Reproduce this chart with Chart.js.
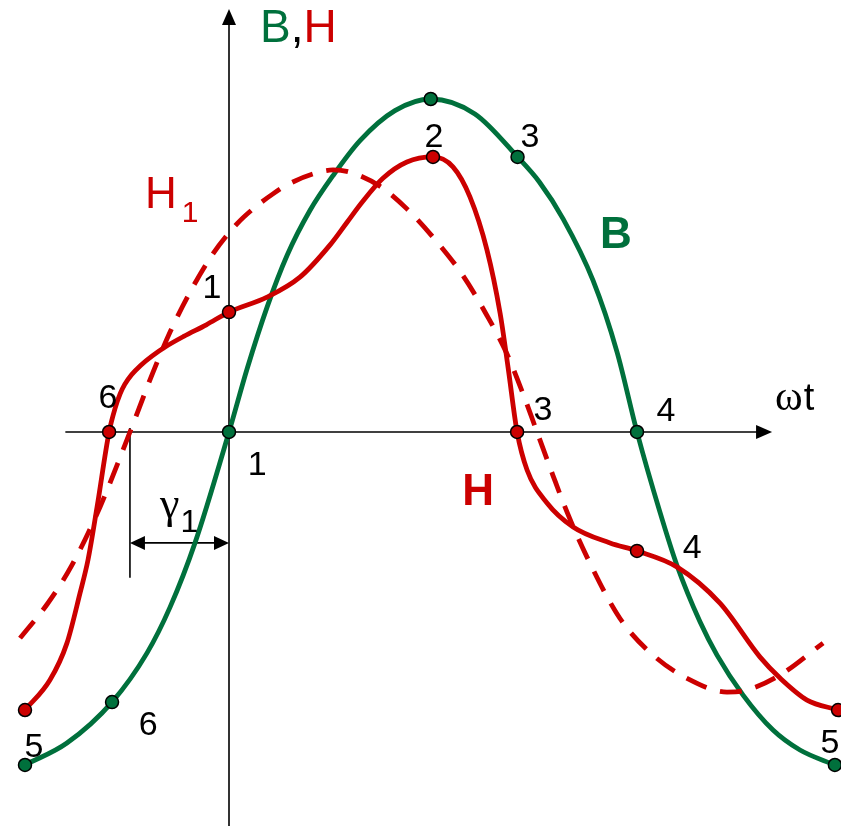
<!DOCTYPE html>
<html>
<head>
<meta charset="utf-8">
<script src="https://cdn.jsdelivr.net/npm/chart.js@4.4.1/dist/chart.umd.min.js"></script>
<style>
  html, body { margin: 0; padding: 0; background: #ffffff; }
  canvas { display: block; }
</style>
</head>
<body>
<canvas id="c" width="841" height="827"></canvas>
<script>
// Phase ωt in degrees, B and H in units of the B amplitude.

// Flux density B
const bPhase = [-90, -71.5, -51.6, -36.2, -26, -15, 0, 8, 16.8, 25.6, 35.7, 45.9, 57.8, 73.2, 89,
                108.5, 127.3, 137, 147.4, 160.6, 171.2, 180, 190.1, 197.6, 207.8, 215.3, 226.8, 240, 251.9, 267.3];
const bValue = [-1.0, -0.934, -0.811, -0.664, -0.526, -0.333, 0, 0.19, 0.375, 0.53, 0.665, 0.77, 0.875, 0.965, 1.0,
                0.955, 0.826, 0.75, 0.64, 0.455, 0.24, 0, -0.24, -0.40, -0.57, -0.67, -0.79, -0.895, -0.955, -1.0];
// indices of the numbered states 5, 6, 1, 2, 3, 4, 5 on B
const bMarked = [0, 2, 6, 14, 16, 21, 29];

// Field strength H (distorted)
const hPhase = [-90, -79, -71.5, -65.7, -62.2, -58.2, -52.9, -50.3, -48, -46, -43, -39, -34, -28, -20, -10, 0,
                16.8, 31.3, 44.6, 52.1, 58.7, 67.9, 78.5, 90, 98.8, 106.3, 113.8, 119.6, 123.1, 127.1, 131.5,
                140.3, 151.8, 168.1, 180, 197.6, 216.6, 234.3, 243.1, 255, 268.7];
const hValue = [-0.835, -0.745, -0.634, -0.483, -0.384, -0.225, 0, 0.07, 0.115, 0.143, 0.172, 0.20, 0.228, 0.256,
                0.287, 0.322, 0.36, 0.405, 0.465, 0.562, 0.63, 0.69, 0.762, 0.811, 0.826, 0.796, 0.706, 0.547,
                0.357, 0.195, 0, -0.114, -0.213, -0.285, -0.333, -0.357, -0.405, -0.514, -0.676, -0.739, -0.805, -0.835];
// indices of the numbered states 5, 6, 1, 2, 3, 4, 5 on H
const hMarked = [0, 6, 16, 24, 30, 35, 41];

// First harmonic H1 of H
const h1Phase = [-92.2, -80, -69.3, -56.9, -43.7, -33.5, -26, -17.2, -7.1, 3.5, 10.6, 19.4, 25.6, 37.1, 45.9,
                 53.4, 66.6, 78.5, 93.1, 103.2, 113.8, 122.6, 129.7, 135.9, 142.9, 149.1, 157.9, 172.5, 187.1,
                 202.1, 219.7, 228.5, 243.1, 262.1];
const h1Value = [-0.619, -0.515, -0.40, -0.225, 0, 0.18, 0.30, 0.42, 0.535, 0.625, 0.67, 0.715, 0.742, 0.775, 0.787,
                 0.78, 0.738, 0.67, 0.56, 0.47, 0.35, 0.235, 0.115, 0, -0.13, -0.24, -0.375, -0.56, -0.67,
                 -0.74, -0.781, -0.775, -0.73, -0.634];

// H1 crosses zero this many degrees ahead of B: the angle γ1
const gamma1Phase = -43.7;

// ---------------------------------------------------------------------------
const GREEN = '#00703C';
const RED = '#CC0000';
const BLACK = '#000000';
const SANS = '"Liberation Sans", Arial, sans-serif';
const SERIF = '"Liberation Serif", "Times New Roman", serif';

const toXY = (xs, ys) => xs.map((x, i) => ({ x: x, y: ys[i] }));

// axis extents (data units)
const AXIS = { xFrom: -72.2, xTip: 239.6, yFrom: -1.183, yTip: 1.27 };

// number labels next to the marked states: [text, phase, value(baseline)]
const pointLabels = [
  ['6', -53.4, 0.072], ['1', 12.4, -0.129], ['1', -7.5, 0.402], ['2', 90.4, 0.856],
  ['3', 132.8, 0.856], ['3', 138.5, 0.036], ['4', 192.8, 0.033], ['4', 204.3, -0.378],
  ['6', -35.7, -0.910], ['5', -86.0, -0.976], ['5', 265.1, -0.964]
];

function arrowHead(ctx, tipX, tipY, dirX, dirY, len, half) {
  const bx = tipX - dirX * len, by = tipY - dirY * len;
  const nx = -dirY, ny = dirX;
  ctx.beginPath();
  ctx.moveTo(tipX, tipY);
  ctx.lineTo(bx + nx * half, by + ny * half);
  ctx.lineTo(bx - nx * half, by - ny * half);
  ctx.closePath();
  ctx.fill();
}

function text(ctx, str, x, y, font, color, align) {
  ctx.font = font;
  ctx.fillStyle = color;
  ctx.textAlign = align || 'center';
  ctx.textBaseline = 'alphabetic';
  ctx.fillText(str, x, y);
  return ctx.measureText(str).width;
}

const axesPlugin = {
  id: 'axesPlugin',
  beforeDraw(chart) {
    const ctx = chart.ctx;
    ctx.save();
    ctx.fillStyle = '#ffffff';
    ctx.fillRect(0, 0, chart.width, chart.height);
    ctx.restore();
  },
  beforeDatasetsDraw(chart) {
    const { ctx, scales: { x, y } } = chart;
    const x0 = x.getPixelForValue(0), y0 = y.getPixelForValue(0);
    ctx.save();
    ctx.strokeStyle = BLACK;
    ctx.fillStyle = BLACK;
    ctx.lineWidth = 1.6;
    // ωt axis
    const xe = x.getPixelForValue(AXIS.xTip);
    ctx.beginPath();
    ctx.moveTo(x.getPixelForValue(AXIS.xFrom), y0);
    ctx.lineTo(xe - 10, y0);
    ctx.stroke();
    arrowHead(ctx, xe, y0, 1, 0, 16, 7);
    // B,H axis
    const ye = y.getPixelForValue(AXIS.yTip);
    ctx.beginPath();
    ctx.moveTo(x0, y.getPixelForValue(AXIS.yFrom));
    ctx.lineTo(x0, ye + 10);
    ctx.stroke();
    arrowHead(ctx, x0, ye, 0, -1, 16, 7);

    // γ1 dimension
    const xg = x.getPixelForValue(gamma1Phase);
    ctx.beginPath();
    ctx.moveTo(xg, y.getPixelForValue(0.012));
    ctx.lineTo(xg, y.getPixelForValue(-0.438));
    ctx.stroke();
    const ya = y.getPixelForValue(-0.333);
    ctx.beginPath();
    ctx.moveTo(xg + 8, ya);
    ctx.lineTo(x0 - 8, ya);
    ctx.stroke();
    arrowHead(ctx, xg, ya, -1, 0, 15, 7);
    arrowHead(ctx, x0, ya, 1, 0, 15, 7);
    ctx.restore();
  },
  afterDatasetsDraw(chart) {
    const { ctx, scales: { x, y } } = chart;
    const px = v => x.getPixelForValue(v), py = v => y.getPixelForValue(v);
    ctx.save();
    // state numbers
    pointLabels.forEach(([t, a, b]) => text(ctx, t, px(a), py(b), '34px ' + SANS, BLACK, 'center'));

    // axis title B,H
    let lx = px(13.7), ly = py(1.171);
    lx += text(ctx, 'B', lx, ly, '46px ' + SANS, GREEN, 'left');
    lx += text(ctx, ',', lx, ly, '46px ' + SANS, BLACK, 'left');
    text(ctx, 'H', lx, ly, '46px ' + SANS, RED, 'left');

    // ωt
    lx = px(240.9); ly = py(0.066);
    lx += text(ctx, 'ω', lx, ly, '42px ' + SERIF, BLACK, 'left');
    text(ctx, 't', lx + 1, ly, '38px ' + SANS, BLACK, 'left');

    // curve names
    text(ctx, 'B', px(170.7), py(0.553), 'bold 44px ' + SANS, GREEN, 'center');
    text(ctx, 'H', px(109.9), py(-0.219), 'bold 44px ' + SANS, RED, 'center');
    lx = px(-37.1); ly = py(0.673);
    lx += text(ctx, 'H', lx, ly, '44px ' + SANS, RED, 'left');
    text(ctx, '1', lx + 5, ly + 14, '30px ' + SANS, RED, 'left');

    // γ1
    lx = px(-30.4); ly = py(-0.258);
    lx += text(ctx, 'γ', lx, ly, '44px ' + SERIF, BLACK, 'left');
    text(ctx, '1', lx + 1, ly + 14, '32px ' + SANS, BLACK, 'left');
    ctx.restore();
  }
};

const markerRadius = list => c => (list.includes(c.dataIndex) ? 6.5 : 0);

new Chart(document.getElementById('c'), {
  type: 'scatter',
  data: {
    datasets: [
      {
        label: 'H',
        data: toXY(hPhase, hValue),
        showLine: true,
        borderColor: RED,
        borderWidth: 4.8,
        cubicInterpolationMode: 'monotone',
        pointRadius: markerRadius(hMarked),
        pointBackgroundColor: RED,
        pointBorderColor: BLACK,
        pointBorderWidth: 1.5,
        order: 1
      },
      {
        label: 'H1',
        data: toXY(h1Phase, h1Value),
        showLine: true,
        borderColor: RED,
        borderWidth: 4.8,
        borderDash: [22, 14],
        cubicInterpolationMode: 'monotone',
        pointRadius: 0,
        order: 2
      },
      {
        label: 'B',
        data: toXY(bPhase, bValue),
        showLine: true,
        borderColor: GREEN,
        borderWidth: 4.8,
        cubicInterpolationMode: 'monotone',
        pointRadius: markerRadius(bMarked),
        pointBackgroundColor: GREEN,
        pointBorderColor: BLACK,
        pointBorderWidth: 1.5,
        order: 3
      }
    ]
  },
  options: {
    responsive: false,
    animation: false,
    devicePixelRatio: 1,
    layout: { padding: 0, autoPadding: false },
    events: [],
    plugins: {
      legend: { display: false },
      tooltip: { enabled: false }
    },
    scales: {
      x: { type: 'linear', min: -101.03, max: 270.0, display: false },
      y: { type: 'linear', min: -1.1862, max: 1.2973, display: false }
    }
  },
  plugins: [axesPlugin]
});
</script>
</body>
</html>
